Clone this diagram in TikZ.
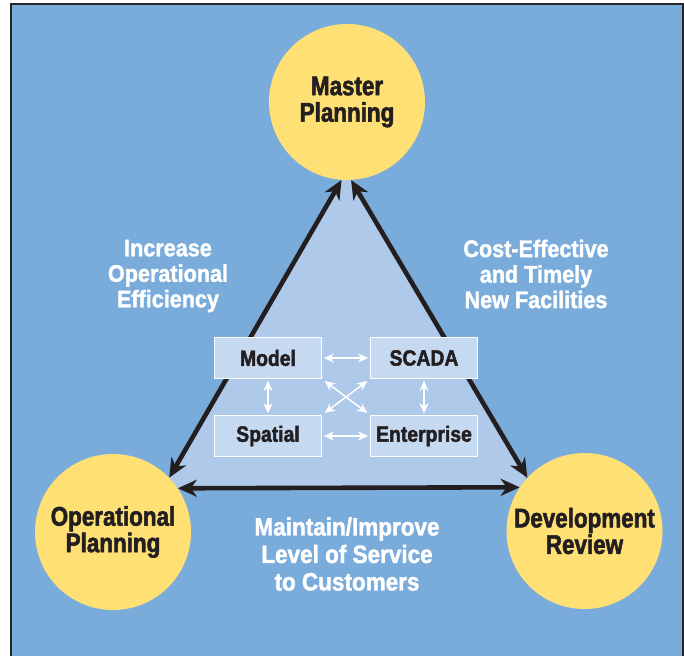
\documentclass[tikz,border=0pt]{standalone}
\usepackage{fontspec}
\setmainfont{Liberation Sans}
\newfontfamily\circfont{Liberation Sans}[FakeStretch=0.83,FakeBold=2]
\newfontfamily\lblfont{Liberation Sans}[FakeStretch=0.9,FakeBold=1.5]
\newfontfamily\boxfont{Liberation Sans}[FakeStretch=0.88,FakeBold=2]
\usetikzlibrary{arrows.meta}
\definecolor{bgblue}{RGB}{122,172,219}
\definecolor{triblue}{RGB}{174,201,234}
\definecolor{boxblue}{RGB}{197,217,241}
\definecolor{sun}{RGB}{255,224,117}
\definecolor{ink}{RGB}{35,31,32}
\begin{document}
\begin{tikzpicture}[x=1pt,y=-1pt,
  goal/.style={circle, fill=sun, minimum size=156pt, inner sep=0pt, align=center, text=ink,
    font=\circfont\bfseries\fontsize{27}{26.5}\selectfont},
  sysbox/.style={rectangle, draw=white, line width=1.6pt, fill=boxblue, minimum width=107pt,
    minimum height=41pt, inner sep=0pt, text=ink, font=\boxfont\bfseries\fontsize{22}{24}\selectfont},
  lbl/.style={align=center, text=white, inner sep=0pt, font=\lblfont\bfseries\fontsize{24}{25.5}\selectfont},
  bigarrow/.style={draw=ink, line width=4.6pt, {Stealth[length=19pt,width=17pt,inset=6pt]}-{Stealth[length=19pt,width=17pt,inset=6pt]}},
  linkarrow/.style={draw=white, line width=1.5pt, shorten <=1.5pt, shorten >=1.5pt,
    {Stealth[length=10pt,width=9pt,inset=3pt]}-{Stealth[length=10pt,width=9pt,inset=3pt]}}
]
\useasboundingbox (0,0) rectangle (684,655);
% background panel
\fill[bgblue] (11,4) rectangle (690,662);
\draw[line width=1.5pt, draw=black!85] (11,662) -- (11,4) -- (682.8,4) -- (682.8,662);
% triangle fill
\fill[triblue] (346.5,171) -- (531,488) -- (163,488) -- cycle;
% goals
\node[goal] (master) at (347,102) {Master\\Planning};
\node[goal] (op) at (113,532) {Operational\\Planning};
\node[goal] (dev) at (584.5,531) {Development\\Review};
% triangle arrows
\draw[bigarrow] (master.266) -- (op.44.5);
\draw[bigarrow] (master.273) -- (dev.137.3);
\draw[bigarrow] (op.34.2) -- (dev.146.2);
% systems
\node[sysbox] (model) at (268,358) {Model};
\node[sysbox] (scada) at (424,358) {SCADA};
\node[sysbox] (spatial) at (268,436) {Spatial};
\node[sysbox] (enter) at (424,436) {Enterprise};
% links between systems
\draw[linkarrow] (model) -- (scada);
\draw[linkarrow] (spatial) -- (enter);
\draw[linkarrow] (model) -- (spatial);
\draw[linkarrow] (scada) -- (enter);
\draw[linkarrow, shorten <=3pt, shorten >=3pt] (model.south east) -- (enter.north west);
\draw[linkarrow, shorten <=3pt, shorten >=3pt] (spatial.north east) -- (scada.south west);
% labels
\node[lbl] (effic) at (168,276) {Increase\\Operational\\Efficiency};
\node[lbl] (cost) at (536,274) {Cost-Effective\\and Timely\\New Facilities};
\node[lbl, font=\lblfont\bfseries\fontsize{25}{27.5}\selectfont] (serv) at (347,554) {Maintain/Improve\\Level of Service\\to Customers};
\end{tikzpicture}
\end{document}
